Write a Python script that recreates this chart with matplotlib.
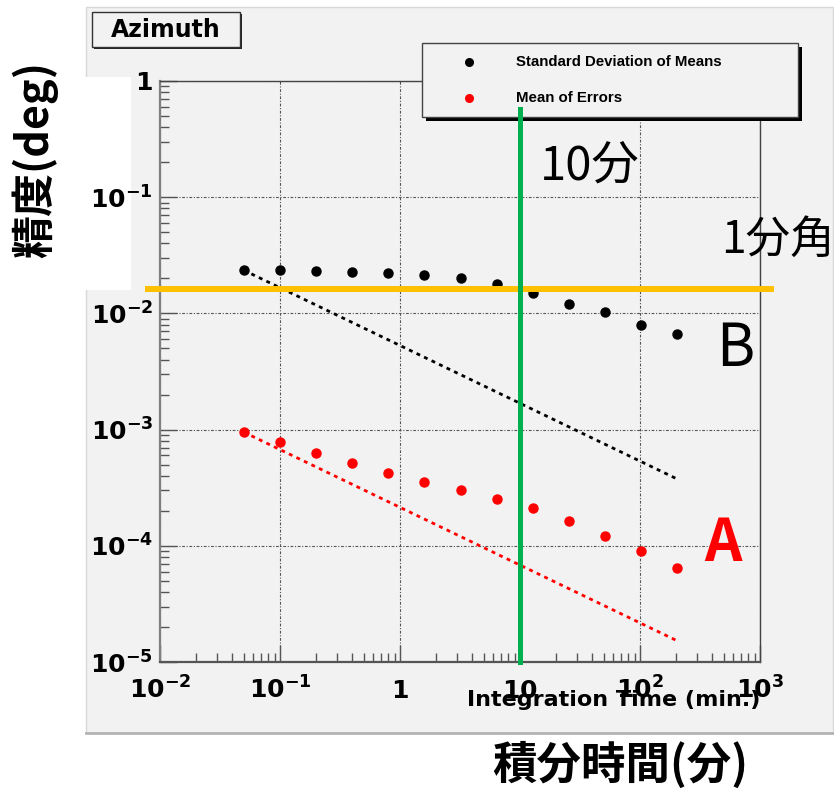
import matplotlib
matplotlib.use("Agg")
import matplotlib.pyplot as plt
from matplotlib.patches import Rectangle
from matplotlib.lines import Line2D
from matplotlib.ticker import FixedLocator, FixedFormatter, LogLocator, NullFormatter

plt.rcParams['mathtext.fontset'] = 'dejavusans'

# ---------------- data ----------------
integration_time = [0.05, 0.1, 0.2, 0.4, 0.8, 1.6, 3.2, 6.4, 12.8, 25.6, 51.2, 102.4, 204.8]
std_of_means = [0.0235, 0.0234, 0.0233, 0.0228, 0.0223, 0.0213, 0.0200, 0.0178,
                0.0149, 0.0121, 0.0103, 0.0079, 0.0066]
mean_of_errors = [9.5e-4, 7.8e-4, 6.3e-4, 5.15e-4, 4.2e-4, 3.55e-4, 3.0e-4, 2.55e-4,
                  2.1e-4, 1.62e-4, 1.22e-4, 9.1e-5, 6.5e-5]
fit_time = [0.05, 204.8]
std_fit = [0.0235, 3.75e-4]
err_fit = [9.5e-4, 1.52e-5]
series_labels = ["Standard Deviation of Means", "Mean of Errors"]
ten_minutes = 10
one_arcmin_deg = 0.0161
xticks = [1e-2, 1e-1, 1, 10, 1e2, 1e3]
xtick_labels = [r'$\mathbf{10^{-2}}$', r'$\mathbf{10^{-1}}$', r'$\mathbf{1}$',
                r'$\mathbf{10}$', r'$\mathbf{10^{2}}$', r'$\mathbf{10^{3}}$']
yticks = [1e-5, 1e-4, 1e-3, 1e-2, 1e-1, 1]
ytick_labels = [r'$\mathbf{10^{-5}}$', r'$\mathbf{10^{-4}}$', r'$\mathbf{10^{-3}}$',
                r'$\mathbf{10^{-2}}$', r'$\mathbf{10^{-1}}$', r'$\mathbf{1}$']

W, H = 834, 789
def fx(x): return x / W
def fy(y): return 1 - y / H

BG = '#F2F2F2'
CJK = ['Noto Sans CJK JP', 'DejaVu Sans']

fig = plt.figure(figsize=(W / 100, H / 100), dpi=100)
fig.patch.set_facecolor('white')

# ROOT canvas
fig.add_artist(Rectangle((fx(86), fy(733)), (833 - 86) / W, (733 - 7) / H, transform=fig.transFigure,
                         facecolor=BG, edgecolor='#D8D8D8', lw=1, zorder=-2))
fig.add_artist(Line2D([fx(86), fx(833)], [fy(733), fy(733)], transform=fig.transFigure,
                      color='#B4B4B4', lw=2, zorder=-1.5))
# white box behind y label
fig.add_artist(Rectangle((0, fy(290)), 131 / W, (290 - 77) / H, transform=fig.transFigure,
                         facecolor='white', edgecolor='none', zorder=-1))

ax = fig.add_axes([fx(160), fy(662), (760 - 160) / W, (662 - 81) / H])
ax.set_facecolor(BG)
ax.set_xscale('log')
ax.set_yscale('log')
ax.set_xlim(1e-2, 1e3)
ax.set_ylim(1e-5, 1)

ax.xaxis.set_major_locator(FixedLocator(xticks))
ax.xaxis.set_major_formatter(FixedFormatter(xtick_labels))
ax.yaxis.set_major_locator(FixedLocator(yticks))
ax.yaxis.set_major_formatter(FixedFormatter(ytick_labels))
ax.xaxis.set_minor_locator(LogLocator(base=10, subs=range(2, 10), numticks=20))
ax.yaxis.set_minor_locator(LogLocator(base=10, subs=range(2, 10), numticks=20))
ax.xaxis.set_minor_formatter(NullFormatter())
ax.yaxis.set_minor_formatter(NullFormatter())

ax.tick_params(which='both', direction='in', top=False, right=False, color='#555555', width=1)
ax.tick_params(which='major', length=12)
ax.tick_params(which='minor', length=6.5)
ax.tick_params(axis='y', which='major', pad=5, labelsize=18)
ax.tick_params(axis='x', which='major', pad=26, labelsize=18)
for t in ax.get_xticklabels():
    t.set_verticalalignment('baseline')

for s in ax.spines.values():
    s.set_color('#444444')
    s.set_linewidth(1)
ax.spines['left'].set_color('#808080')
ax.spines['left'].set_linewidth(1.6)
ax.spines['bottom'].set_color('#555555')
ax.spines['bottom'].set_linewidth(1.6)

ax.grid(True, which='major', color='#555555', lw=0.8, ls=(0, (2.5, 1.5, 1, 1.5)))
ax.set_axisbelow(True)

# fits
ax.plot(fit_time, std_fit, color='black', lw=2, ls=(0, (1.4, 1.6)), zorder=3)
ax.plot(fit_time, err_fit, color='#FF0000', lw=2, ls=(0, (1.4, 1.6)), zorder=3)
# points
ax.plot(integration_time, std_of_means, 'o', color='black', ms=6.5, zorder=4)
ax.plot(integration_time, mean_of_errors, 'o', color='#FF0000', ms=6.5, zorder=4)

# orange 1-arcmin line
ax.plot([0.0075, 1300], [one_arcmin_deg, one_arcmin_deg], color='#FFC000', lw=4.3,
        clip_on=False, zorder=6, solid_capstyle='butt')
# green 10-min line
ax.axvline(ten_minutes, ymin=0, ymax=(662 - 109) / (662 - 81), color='#00B050', lw=3.6,
           zorder=7, clip_on=False)

ax.text(1.0, -0.065, 'Integration Time (min.)', transform=ax.transAxes, ha='right', va='center',
        fontsize=16, fontweight='bold', family='DejaVu Sans', zorder=5)

# legend box (custom, ROOT style)
ax.add_patch(Rectangle((fx(426), fy(121)), (798 - 422) / W, (117 - 43) / H, transform=fig.transFigure,
                       facecolor='black', edgecolor='none', clip_on=False, zorder=5))
ax.add_patch(Rectangle((fx(422), fy(117)), (798 - 422) / W, (117 - 43) / H, transform=fig.transFigure,
                       facecolor=BG, edgecolor='#444444', lw=1, clip_on=False, zorder=5.1))
for yy, col, lab in [(62, 'black', series_labels[0]), (98, '#FF0000', series_labels[1])]:
    ax.plot([fx(469)], [fy(yy)], 'o', color=col, ms=5.5, transform=fig.transFigure,
            clip_on=False, zorder=5.2)
    ax.text(fx(516), fy(yy), lab, transform=fig.transFigure, ha='left', va='center',
            fontsize=10.8, fontweight='bold', family='Liberation Sans', zorder=5.3)

# title box
fig.add_artist(Rectangle((fx(94), fy(49)), (240 - 92) / W, (47 - 12) / H, transform=fig.transFigure,
                         facecolor='#222222', edgecolor='none', zorder=2))
fig.add_artist(Rectangle((fx(92), fy(47)), (240 - 92) / W, (47 - 12) / H, transform=fig.transFigure,
                         facecolor=BG, edgecolor='#333333', lw=1, zorder=2.1))
fig.text(fx(166), fy(30), 'Azimuth', ha='center', va='center', fontsize=17, fontweight='bold',
         family='DejaVu Sans', zorder=3)

# Japanese annotations
fig.text(fx(35), fy(160), '精度(deg)', rotation=90, ha='center', va='center', fontsize=31,
         fontweight='bold', family=CJK, zorder=3)
fig.text(fx(620), fy(765), '積分時間(分)', ha='center', va='center', fontsize=32,
         fontweight='bold', family=CJK, zorder=3)
fig.text(fx(540), fy(166), '10分', ha='left', va='center', fontsize=34, family=CJK, zorder=3)
fig.text(fx(721), fy(240), '1分角', ha='left', va='center', fontsize=32, family=CJK, zorder=3)
fig.text(fx(716), fy(349), 'B', ha='left', va='center', fontsize=42, family=CJK, zorder=3)
fig.text(fx(704), fy(544), 'A', ha='left', va='center', fontsize=42, fontweight='bold',
         color='#FF0000', family=CJK, zorder=3)

fig.savefig('out.png', dpi=100, facecolor='white')
